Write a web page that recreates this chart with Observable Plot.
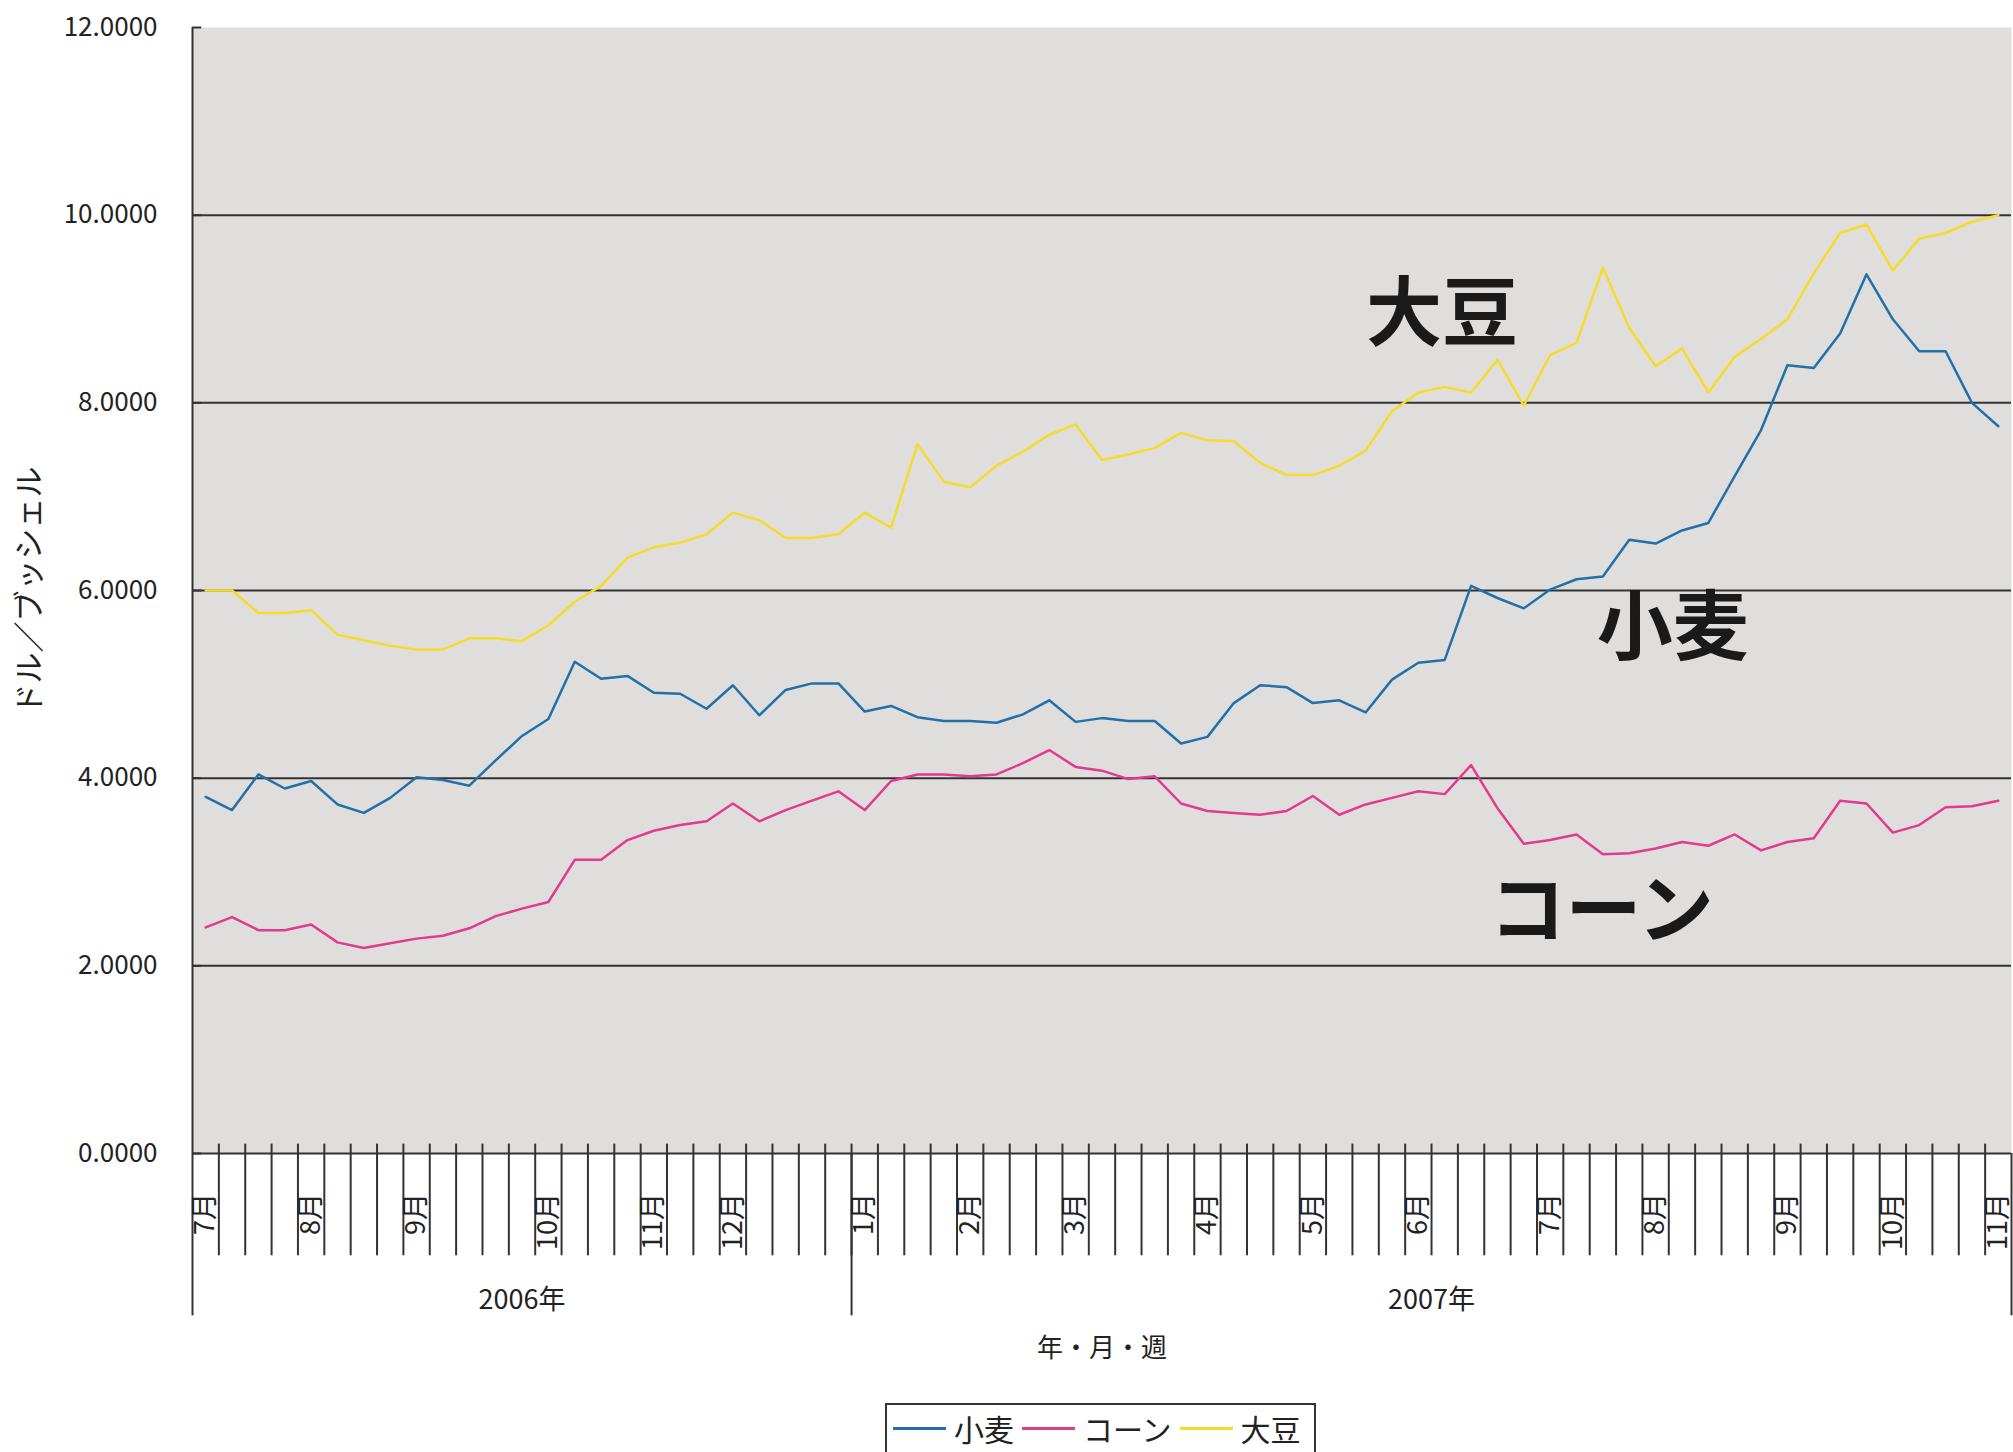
<!DOCTYPE html>
<html>
<head>
<meta charset="utf-8">
<script src="https://cdn.jsdelivr.net/npm/d3@7"></script>
<script src="https://cdn.jsdelivr.net/npm/@observablehq/plot@0.6"></script>
<style>
  html, body { margin: 0; padding: 0; background: #fff; overflow: hidden; }
  body { width: 2013px; height: 1452px; font-family: "Noto Sans CJK JP", sans-serif; }
  #legend {
    position: relative; margin-left: 885px; margin-top: 3px;
    width: 431px; height: 60px; border: 2px solid #333; box-sizing: border-box;
    display: flex; align-items: flex-start; padding-top: 1px; padding-left: 6px;
    font-size: 30px; color: #222; white-space: nowrap;
  }
  #legend .item { display: flex; align-items: center; margin-right: 8px; }
  #legend .sw { display: inline-block; width: 53px; height: 3px; margin-right: 8px; }
</style>
</head>
<body>
<div id="chart"></div>
<div id="legend"></div>
<script>
// ---- data ----
const seriesNames = ["小麦", "コーン", "大豆"];
const seriesColors = ["#2270aa", "#e23a8c", "#f5dc2a"];

const wheat = [3.80,3.66,4.04,3.89,3.97,3.72,3.63,3.79,4.01,3.98,3.92,4.19,4.45,4.63,5.24,5.06,5.09,4.91,4.90,4.74,
  4.99,4.67,4.94,5.01,5.01,4.71,4.77,4.65,4.61,4.61,4.59,4.68,4.83,4.60,4.64,4.61,4.61,4.37,4.44,4.80,
  4.99,4.97,4.80,4.83,4.70,5.05,5.23,5.26,6.05,5.92,5.81,6.01,6.12,6.15,6.54,6.50,6.64,6.72,7.22,7.71,
  8.40,8.37,8.74,9.37,8.89,8.55,8.55,8.00,7.75];
const corn = [2.41,2.52,2.38,2.38,2.44,2.25,2.19,2.24,2.29,2.32,2.40,2.53,2.61,2.68,3.13,3.13,3.34,3.44,3.50,3.54,
  3.73,3.54,3.66,3.76,3.86,3.66,3.97,4.04,4.04,4.02,4.04,4.16,4.30,4.12,4.08,3.99,4.02,3.73,3.65,3.63,
  3.61,3.65,3.81,3.61,3.72,3.79,3.86,3.83,4.14,3.68,3.30,3.34,3.40,3.19,3.20,3.25,3.32,3.28,3.40,3.23,
  3.32,3.36,3.76,3.73,3.42,3.50,3.69,3.70,3.76];
const soybean = [6.00,6.00,5.76,5.76,5.79,5.53,5.47,5.41,5.37,5.37,5.49,5.49,5.46,5.63,5.88,6.05,6.35,6.46,6.51,6.60,
  6.83,6.75,6.56,6.56,6.60,6.83,6.67,7.56,7.16,7.10,7.33,7.48,7.66,7.77,7.39,7.45,7.52,7.68,7.60,7.59,
  7.36,7.23,7.23,7.33,7.49,7.91,8.11,8.17,8.11,8.46,7.97,8.51,8.64,9.44,8.80,8.39,8.58,8.11,8.49,8.68,
  8.89,9.38,9.81,9.90,9.41,9.75,9.81,9.93,10.00];

const monthLabels = ["7月","8月","9月","10月","11月","12月","1月","2月","3月","4月","5月","6月","7月","8月","9月","10月","11月"];
const monthStart  = [0,4,8,13,17,20,25,29,33,38,42,46,51,55,60,64,68];
const yearLabels  = ["2006年","2007年"];
const yearStart   = [0,25];
const yearEnd     = [25,69];
const weekCount   = 69;
const yTicks      = [0,2,4,6,8,10,12];
const yTitle      = "ドル／ブッシェル";
const xTitle      = "年・月・週";

const annLabels = ["大豆","小麦","コーン"];
const annX      = [47.4, 56.15, 53.45];
const annY      = [8.93, 5.58, 2.57];

// ---- build tables ----
const values = [wheat, corn, soybean];
const rows = values.flatMap((arr, s) => arr.map((v, i) => ({series: seriesNames[s], i, v})));
const boundaries = d3.range(1, weekCount);
const months = monthLabels.map((m, k) => ({m, i: monthStart[k]}));
const years = yearLabels.map((y, k) => ({y, a: yearStart[k], b: yearEnd[k]}));
const yearLines = [...new Set([...yearStart, ...yearEnd])];
const anns = annLabels.map((t, k) => ({t, x: annX[k], y: annY[k]}));

const grid = "#333333";
const font = "'Noto Sans CJK JP', sans-serif";

const chart = Plot.plot({
  width: 2013,
  height: 1400,
  marginLeft: 192,
  marginRight: 2,
  marginTop: 27,
  marginBottom: 247,
  style: {fontFamily: font, background: "#fff", color: "#222", overflow: "visible"},
  x: {domain: [0, weekCount], axis: null},
  y: {domain: [0, 12], axis: null},
  color: {domain: seriesNames, range: seriesColors},
  marks: [
    Plot.frame({fill: "#e0dedc", stroke: "none"}),
    Plot.ruleY(yTicks.filter(d => d > 0 && d < 12), {stroke: grid, strokeWidth: 2}),
    Plot.ruleY(yTicks, {x1: 0, x2: 0.35, stroke: grid, strokeWidth: 2}),
    Plot.ruleX([0], {y1: 0, y2: 12, stroke: grid, strokeWidth: 2}),
    // category tick marks
    Plot.ruleX(boundaries, {y1: 0.1, y2: -1.09, stroke: grid, strokeWidth: 2}),
    Plot.ruleX(yearLines, {y1: 0, y2: -1.73, stroke: grid, strokeWidth: 2}),
    Plot.ruleY([0], {stroke: grid, strokeWidth: 2}),
    // lines
    Plot.line(rows, {x: d => d.i + 0.5, y: "v", z: "series", stroke: "series", strokeWidth: 2.5}),
    // y axis
    Plot.axisY(yTicks, {tickSize: 0, tickPadding: 35, tickFormat: d3.format(".4f"), fontSize: 26, label: null, fill: "#222"}),
    Plot.text([yTitle], {frameAnchor: "left", textAnchor: "middle", dx: -162, rotate: -90, fontSize: 31, fill: "#222"}),
    // month labels
    Plot.text(months, {x: d => d.i + 0.5, y: -0.42, text: "m", rotate: -90, textAnchor: "end", fontSize: 27, fill: "#222"}),
    // year labels
    Plot.text(years, {x: d => (d.a + d.b) / 2, y: -1.57, text: "y", fontSize: 27, fill: "#222"}),
    // x title
    Plot.text([xTitle], {x: weekCount / 2, y: -2.08, fontSize: 26, fill: "#222"}),
    // annotations
    Plot.text(anns, {x: "x", y: "y", text: "t", fontSize: 76, fontWeight: "bold", fill: "#1a1a1a"})
  ]
});
document.getElementById("chart").appendChild(chart);

// legend
const legend = document.getElementById("legend");
seriesNames.forEach((name, k) => {
  const item = document.createElement("span");
  item.className = "item";
  const sw = document.createElement("span");
  sw.className = "sw";
  sw.style.background = seriesColors[k];
  item.appendChild(sw);
  item.appendChild(document.createTextNode(name));
  legend.appendChild(item);
});
</script>
</body>
</html>
